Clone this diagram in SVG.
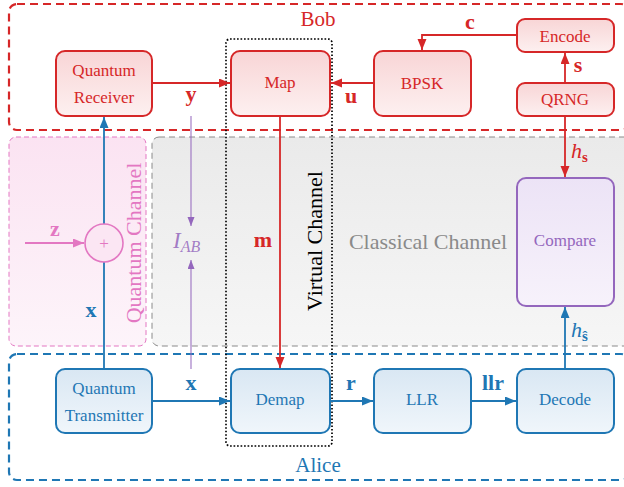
<svg xmlns="http://www.w3.org/2000/svg" width="624" height="487" viewBox="0 0 624 487">
<defs>
<linearGradient id="gRed" x1="0" y1="0" x2="0" y2="1"><stop offset="0" stop-color="#f8d5d6"/><stop offset="1" stop-color="#fdf0f0"/></linearGradient>
<linearGradient id="gBlue" x1="0" y1="0" x2="0" y2="1"><stop offset="0" stop-color="#d9e7f3"/><stop offset="1" stop-color="#f0f6fb"/></linearGradient>
<linearGradient id="gPurple" x1="0" y1="0" x2="0" y2="1"><stop offset="0" stop-color="#ece3f6"/><stop offset="1" stop-color="#f7f2fb"/></linearGradient>
<linearGradient id="gPink" x1="0" y1="0" x2="0" y2="1"><stop offset="0" stop-color="#fbe3f2"/><stop offset="1" stop-color="#fdf4fa"/></linearGradient>
<linearGradient id="gGrey" x1="0" y1="0" x2="0" y2="1"><stop offset="0" stop-color="#eaeaea"/><stop offset="1" stop-color="#f6f6f6"/></linearGradient>
<marker id="aRed" markerUnits="userSpaceOnUse" markerWidth="12" markerHeight="10" refX="11" refY="4.5" orient="auto"><path d="M0,0 L11,4.5 L0,9 z" fill="#d62728"/></marker>
<marker id="aBlue" markerUnits="userSpaceOnUse" markerWidth="12" markerHeight="10" refX="11" refY="4.5" orient="auto"><path d="M0,0 L11,4.5 L0,9 z" fill="#1f77b4"/></marker>
<marker id="aPink" markerUnits="userSpaceOnUse" markerWidth="12" markerHeight="10" refX="11" refY="4.5" orient="auto"><path d="M0,0 L11,4.5 L0,9 z" fill="#e377c2"/></marker>
<marker id="aPurple" markerUnits="userSpaceOnUse" markerWidth="10" markerHeight="8" refX="9" refY="3.5" orient="auto"><path d="M0,0 L9,3.5 L0,7 z" fill="#9467bd"/></marker>
</defs>
<style>
text{font-family:"Liberation Serif","Times New Roman",serif;}
.red{fill:#d62728;}
.blue{fill:#1f77b4;}
.purple{fill:#9467bd;}
.pink{fill:#e377c2;}
.grey{fill:#8a8a8a;}
.lbl{font-size:17px;text-anchor:middle;}
.vec{font-size:22px;font-weight:bold;text-anchor:middle;}
.title{font-size:21px;text-anchor:middle;}
.chan{font-size:22px;text-anchor:middle;}
.nRed{fill:url(#gRed);stroke:#d62728;stroke-width:2;}
.nBlue{fill:url(#gBlue);stroke:#1f77b4;stroke-width:2;}
.nPurple{fill:url(#gPurple);stroke:#9467bd;stroke-width:2;}
.cRed{stroke:#d62728;stroke-width:1.8;fill:none;marker-end:url(#aRed);}
.cBlue{stroke:#1f77b4;stroke-width:1.8;fill:none;marker-end:url(#aBlue);}
.cPink{stroke:#e377c2;stroke-width:1.8;fill:none;marker-end:url(#aPink);}
.cPurple{stroke:#9467bd;stroke-width:1.2;fill:none;stroke-opacity:0.85;marker-end:url(#aPurple);}
</style>

<g id="quantum-channel">
<rect x="9" y="137" width="137" height="209" rx="7" fill="url(#gPink)" stroke="#e377c2" stroke-width="1" stroke-dasharray="5,3"/>
<text class="chan pink" transform="translate(141,243) rotate(-90)">Quantum Channel</text>
</g>
<g id="classical-channel">
<rect x="152" y="137" width="480" height="209" rx="7" fill="url(#gGrey)" stroke="#8a8a8a" stroke-width="1" stroke-dasharray="6,4"/>
<text class="chan grey" x="428" y="249">Classical Channel</text>
</g>
<g id="bob">
<rect x="9" y="4" width="620" height="126" rx="8" fill="none" stroke="#d62728" stroke-width="2.2" stroke-dasharray="8,5"/>
<text class="title red" x="318" y="26">Bob</text>
</g>
<g id="alice">
<rect x="9" y="354" width="620" height="126" rx="8" fill="none" stroke="#1f77b4" stroke-width="2.2" stroke-dasharray="8,5"/>
<text class="title blue" x="318" y="472">Alice</text>
</g>
<g id="virtual-channel">
<rect x="226" y="39" width="106" height="407" rx="4" fill="none" stroke="#000" stroke-width="1.7" stroke-dasharray="1.7,1.8"/>
<text class="chan" fill="#000" transform="translate(322,241) rotate(-90)">Virtual Channel</text>
</g>

<g id="connectors">
<path class="cRed" d="M152,83 H230"/>
<path class="cRed" d="M374,83 H331"/>
<path class="cRed" d="M517,35 H422 V50"/>
<path class="cRed" d="M565,83 V53"/>
<path class="cRed" d="M565,116 V177"/>
<path class="cRed" d="M280,116 V368"/>
<path class="cBlue" d="M104,369 V117"/>
<path class="cBlue" d="M152,401 H230"/>
<path class="cBlue" d="M330,401 H373"/>
<path class="cBlue" d="M471,401 H516"/>
<path class="cBlue" d="M565,369 V307"/>
<path class="cPink" d="M25,243 H84"/>
<path class="cPurple" d="M191,116 V226"/>
<path class="cPurple" d="M191,369 V260"/>
</g>

<g id="adder">
<circle cx="104" cy="243" r="19" fill="#fbe6f3" stroke="#e377c2" stroke-width="1.6"/>
<text class="pink" x="104" y="249" font-size="17" text-anchor="middle">+</text>
</g>

<g id="quantum-receiver">
<rect class="nRed" x="56" y="51" width="96" height="65" rx="9"/>
<text class="lbl red" x="104" y="76">Quantum</text>
<text class="lbl red" x="104" y="103">Receiver</text>
</g>
<g id="map">
<rect class="nRed" x="231" y="51" width="99" height="65" rx="9"/>
<text class="lbl red" x="280" y="88">Map</text>
</g>
<g id="bpsk">
<rect class="nRed" x="374" y="51" width="97" height="65" rx="9"/>
<text class="lbl red" x="422" y="89">BPSK</text>
</g>
<g id="encode">
<rect class="nRed" x="517" y="19" width="97" height="33" rx="8"/>
<text class="lbl red" x="565" y="42">Encode</text>
</g>
<g id="qrng">
<rect class="nRed" x="517" y="83" width="97" height="33" rx="8"/>
<text class="lbl red" x="565" y="105">QRNG</text>
</g>
<g id="compare">
<rect class="nPurple" x="517" y="178" width="97" height="128" rx="9"/>
<text class="lbl purple" x="565" y="246">Compare</text>
</g>
<g id="quantum-transmitter">
<rect class="nBlue" x="56" y="369" width="96" height="64" rx="9"/>
<text class="lbl blue" x="104" y="394">Quantum</text>
<text class="lbl blue" x="104" y="421">Transmitter</text>
</g>
<g id="demap">
<rect class="nBlue" x="231" y="369" width="99" height="64" rx="9"/>
<text class="lbl blue" x="280" y="405">Demap</text>
</g>
<g id="llr">
<rect class="nBlue" x="374" y="369" width="97" height="64" rx="9"/>
<text class="lbl blue" x="422" y="405">LLR</text>
</g>
<g id="decode">
<rect class="nBlue" x="517" y="369" width="97" height="64" rx="9"/>
<text class="lbl blue" x="565" y="405">Decode</text>
</g>

<g id="labels">
<text class="vec red" x="191" y="101">y</text>
<text class="vec red" x="351" y="103">u</text>
<text class="vec red" x="470" y="29">c</text>
<text class="vec red" x="578" y="72">s</text>
<text class="vec red" x="263" y="247">m</text>
<text class="vec pink" x="55" y="236">z</text>
<text class="vec blue" x="91" y="317">x</text>
<text class="vec blue" x="191" y="390">x</text>
<text class="vec blue" x="351" y="390">r</text>
<text class="vec blue" x="493" y="390">llr</text>
<text class="purple" x="173" y="248" font-size="23" font-style="italic" fill-opacity="0.85">I<tspan font-size="16" dy="4">AB</tspan></text>
<text class="red" x="571" y="158" font-size="22" font-style="italic">h<tspan font-size="15" font-style="normal" font-weight="bold" dy="4">s</tspan></text>
<text class="blue" x="571" y="337" font-size="22" font-style="italic">h<tspan font-size="15" font-style="normal" font-weight="bold" dy="4">ŝ</tspan></text>
</g>
</svg>
